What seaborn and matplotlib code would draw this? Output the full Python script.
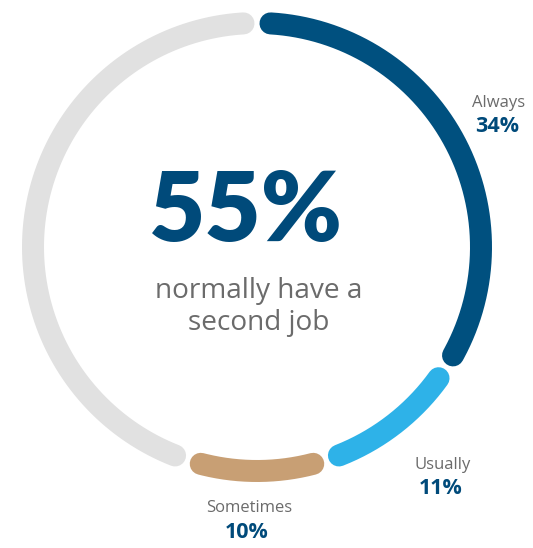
import numpy as np
import matplotlib
matplotlib.use("Agg")
import matplotlib.pyplot as plt
import seaborn as sns

# Share of respondents who normally have a second job
categories = ["Always", "Usually", "Sometimes", "Other"]
shares = [34, 11, 10, 45]
colors = ["#00507f", "#2eb2e8", "#c89f74", "#e1e1e1"]
labelled = ["Always", "Usually", "Sometimes"]
headline = "55%"
subtitle = "normally have a\nsecond job"

sns.set_theme(style="white")
plt.rcParams["font.family"] = ["Open Sans", "DejaVu Sans"]

W, H = 533, 548
fig = plt.figure(figsize=(W / 100, H / 100), dpi=100)
ax = fig.add_axes([0, 0, 1, 1])
ax.set_xlim(0, W)
ax.set_ylim(H, 0)
ax.axis("off")

cx, cy, r = 257, 247, 224
lw_px = 22
trim = (lw_px / 2 + 2.5) / r  # radians removed at each end for cap + gap

start = 0.0
for cat, val, col in zip(categories, shares, colors):
    a0 = start / 100 * 2 * np.pi + trim
    a1 = (start + val) / 100 * 2 * np.pi - trim
    t = np.linspace(a0, a1, 200)
    xs = cx + r * np.sin(t)
    ys = cy - r * np.cos(t)
    sns.lineplot(x=xs, y=ys, sort=False, ax=ax, color=col,
                 linewidth=lw_px * 0.72, solid_capstyle="round")
    start += val

gray_txt = "#6b6b6b"
navy = "#004a7a"

ax.text(246, 212, headline, ha="center", va="center", fontsize=70,
        fontweight="heavy", color=navy, family=["Lato", "DejaVu Sans"])
ax.text(259, 307, subtitle, ha="center", va="center", fontsize=20.2,
        color=gray_txt, linespacing=1.22)

label_pos = {"Always": (499, 103), "Usually": (443, 465), "Sometimes": (249, 508)}
for cat, val in zip(categories, shares):
    if cat not in labelled:
        continue
    x, y = label_pos[cat]
    ax.text(x, y, cat, ha="center", va="center", fontsize=12, color=gray_txt)
    ax.text(x - 2, y + 24, f"{val}%", ha="center", va="center", fontsize=15.5,
            fontweight="bold", color=navy)

fig.savefig("out.png", dpi=100)
